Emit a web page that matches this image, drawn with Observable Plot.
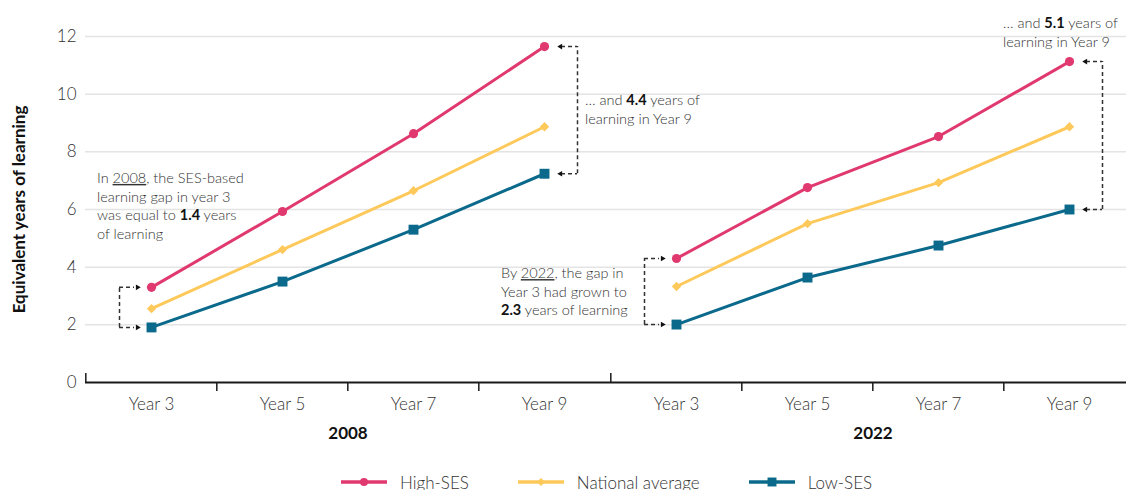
<!DOCTYPE html>
<html><head><meta charset="utf-8">
<script src="https://cdn.jsdelivr.net/npm/d3@7"></script>
<script src="https://cdn.jsdelivr.net/npm/@observablehq/plot@0.6"></script>
<style>
html,body{margin:0;padding:0;overflow:hidden;background:#fff;width:1126px;height:490px}
body{position:relative;font-family:Lato,"Open Sans",sans-serif}
#legend{position:absolute;left:341px;top:470px;height:24px;display:flex;align-items:center;font-size:17px;font-weight:300;color:#333;white-space:nowrap}
#legend .item{display:flex;align-items:center;margin-right:49px}
#legend svg{display:block;margin-right:13px}
</style></head><body><div id="chart"></div><div id="legend"></div>
<script>
const years = ["Year 3", "Year 5", "Year 7", "Year 9"];
const periods = ["2008", "2022"];
const seriesNames = ["High-SES", "National average", "Low-SES"];
const seriesColors = ["#e0396f", "#fec95b", "#0b6a8b"];
const seriesSymbols = ["circle", "diamond2", "square"];
const yTicks = [0, 2, 4, 6, 8, 10, 12];
const yLabel = "Equivalent years of learning";

const high2008 = [3.30, 5.93, 8.63, 11.65];
const nat2008  = [2.56, 4.61, 6.65, 8.87];
const low2008  = [1.91, 3.50, 5.30, 7.24];
const high2022 = [4.30, 6.76, 8.53, 11.13];
const nat2022  = [3.33, 5.51, 6.93, 8.87];
const low2022  = [2.01, 3.64, 4.75, 6.00];

const noteTexts = [
  [[["In "], ["2008", "u"], [", the SES-based"]], [["learning gap in year 3"]], [["was equal to "], ["1.4", "b"], [" years"]], [["of learning"]]],
  [[["… and "], ["4.4", "b"], [" years of"]], [["learning in Year 9"]]],
  [[["By "], ["2022", "u"], [", the gap in"]], [["Year 3 had grown to"]], [["2.3", "b"], [" years of learning"]]],
  [[["… and "], ["5.1", "b"], [" years of"]], [["learning in Year 9"]]]
];

const table = {
  "2008": {"High-SES": high2008, "National average": nat2008, "Low-SES": low2008},
  "2022": {"High-SES": high2022, "National average": nat2022, "Low-SES": low2022}
};
const rows = periods.flatMap(p => seriesNames.flatMap(s => years.map((yr, i) => ({period: p, series: s, year: yr, value: table[p][s][i]}))));

const gapSpec = [["2008", 0, -1], ["2008", 3, 1], ["2022", 0, -1], ["2022", 3, 1]];
const gaps = gapSpec.map(([p, i, side]) => ({period: p, year: years[i], side, hi: table[p]["High-SES"][i], lo: table[p]["Low-SES"][i]}));
const ends = gaps.flatMap(g => [{...g, v: g.hi}, {...g, v: g.lo}]);

const FONT = "Lato, 'Open Sans', sans-serif";
const W = 1135, H = 460, ML = 84, MT = 36, MB = H - 382;
const HALF = (W - ML) / periods.length / years.length / 2;
const dash = {stroke: "#333", strokeWidth: 1.5, strokeDasharray: "4,3"};

const plot = Plot.plot({
  width: W, height: H, marginLeft: ML, marginRight: 0, marginTop: MT, marginBottom: MB,
  style: {fontFamily: FONT, fontSize: "17px", fontWeight: 300, color: "#333", maxWidth: "none", overflow: "visible", background: "white"},
  x: {type: "point", domain: years, padding: 0.5, axis: null},
  fx: {domain: periods, padding: 0, axis: null},
  y: {domain: [0, 12], axis: null},
  color: {domain: seriesNames, range: seriesColors},
  marks: [
    Plot.gridY(yTicks.slice(1), {stroke: "#e4e4e4", strokeOpacity: 1, strokeWidth: 1.5}),
    Plot.axisY(yTicks, {tickSize: 0, tickPadding: 9, label: null, fontSize: 17, fill: "#333"}),
    Plot.text([yLabel], {fx: () => periods[0], frameAnchor: "left", textAnchor: "middle", rotate: -90, dx: -66, fontWeight: "bold", fontSize: 17, fill: "#111"}),
    Plot.axisX(years, {tickSize: 0, tickPadding: 15, label: null, fontSize: 17, fill: "#333"}),
    Plot.text(periods, {fx: d => d, text: d => d, frameAnchor: "bottom", lineAnchor: "middle", dy: 51, fontSize: 17, fontWeight: "bold", fill: "#111"}),
    Plot.ruleY([0], {stroke: "#1a1a1a", strokeWidth: 2}),
    Plot.ruleX(years.slice(1), {x: d => d, y1: 0, y2: 0, insetBottom: -9, dx: -HALF, stroke: "#1a1a1a", strokeWidth: 1.5}),
    Plot.ruleX(years.slice(0, 1), {x: d => d, y1: 0, y2: 0, insetTop: -9, dx: -HALF, stroke: "#1a1a1a", strokeWidth: 1.5}),
    Plot.line(rows, {fx: "period", x: "year", y: "value", z: "series", stroke: "series", strokeWidth: 3}),
    ...seriesNames.map((s, k) => Plot.dot(rows.filter(d => d.series === s), {
      fx: "period", x: "year", y: "value", fill: "series", symbol: () => seriesSymbols[k],
      r: [4.6, 4.2, 5.6][k], stroke: null
    })),
    Plot.ruleX(gaps.filter(g => g.side < 0), {fx: "period", x: "year", y1: "lo", y2: "hi", dx: -32, ...dash}),
    Plot.ruleX(gaps.filter(g => g.side > 0), {fx: "period", x: "year", y1: "lo", y2: "hi", dx: 33, ...dash}),
    Plot.ruleY(ends.filter(g => g.side < 0), {fx: "period", y: "v", x1: "year", x2: "year", insetLeft: -32, insetRight: 17, ...dash}),
    Plot.ruleY(ends.filter(g => g.side > 0), {fx: "period", y: "v", x1: "year", x2: "year", insetLeft: 17, insetRight: -33, ...dash}),
    Plot.dot(ends.filter(g => g.side < 0), {fx: "period", x: "year", y: "v", dx: -14, symbol: "triangle2", rotate: 90, r: 2.7, fill: "#111"}),
    Plot.dot(ends.filter(g => g.side > 0), {fx: "period", x: "year", y: "v", dx: 16, symbol: "triangle2", rotate: -90, r: 2.7, fill: "#111"})
  ]
});
document.getElementById("chart").appendChild(plot);

// rich-text annotations positioned with the plot's own scales
// (facets are translated by fx(p) - marginLeft, x scale range starts at marginLeft)
const fxS = plot.scale("fx"), xS = plot.scale("x"), yS = plot.scale("y");
const noteOffsets = [[-54, -109], [41, 54], [-175, 15], [-66, -38]];
const g = d3.select(plot).append("g").attr("font-family", FONT).attr("font-size", 14.5).attr("font-weight", 300).attr("fill", "#333").attr("text-anchor", "start");
gaps.forEach((gp, n) => {
  const X = fxS.apply(gp.period) - ML + xS.apply(gp.year) + noteOffsets[n][0];
  const Y = yS.apply(gp.hi) + noteOffsets[n][1];
  noteTexts[n].forEach((line, li) => {
    const t = g.append("text").attr("x", X).attr("y", Y + li * 18.7).attr("dy", "0.35em");
    line.forEach(([s, f]) => {
      const ts = t.append("tspan").text(s);
      if (f === "b") ts.attr("font-weight", "bold").attr("fill", "#111");
      if (f === "u") ts.attr("text-decoration", "underline");
    });
  });
});

// legend
const lg = d3.select("#legend");
seriesNames.forEach((s, k) => {
  const it = lg.append("div").attr("class", "item");
  const sv = it.append("svg").attr("width", 46).attr("height", 24);
  sv.append("line").attr("x1", 0).attr("x2", 46).attr("y1", 12).attr("y2", 12).attr("stroke", seriesColors[k]).attr("stroke-width", 3.5).attr("stroke-linecap", "round");
  sv.append("path").attr("transform", "translate(23,12)").attr("fill", seriesColors[k])
    .attr("d", d3.symbol([d3.symbolCircle, d3.symbolDiamond2, d3.symbolSquare][k], [50, 40, 80][k])());
  it.append("span").text(s);
});
</script></body></html>
